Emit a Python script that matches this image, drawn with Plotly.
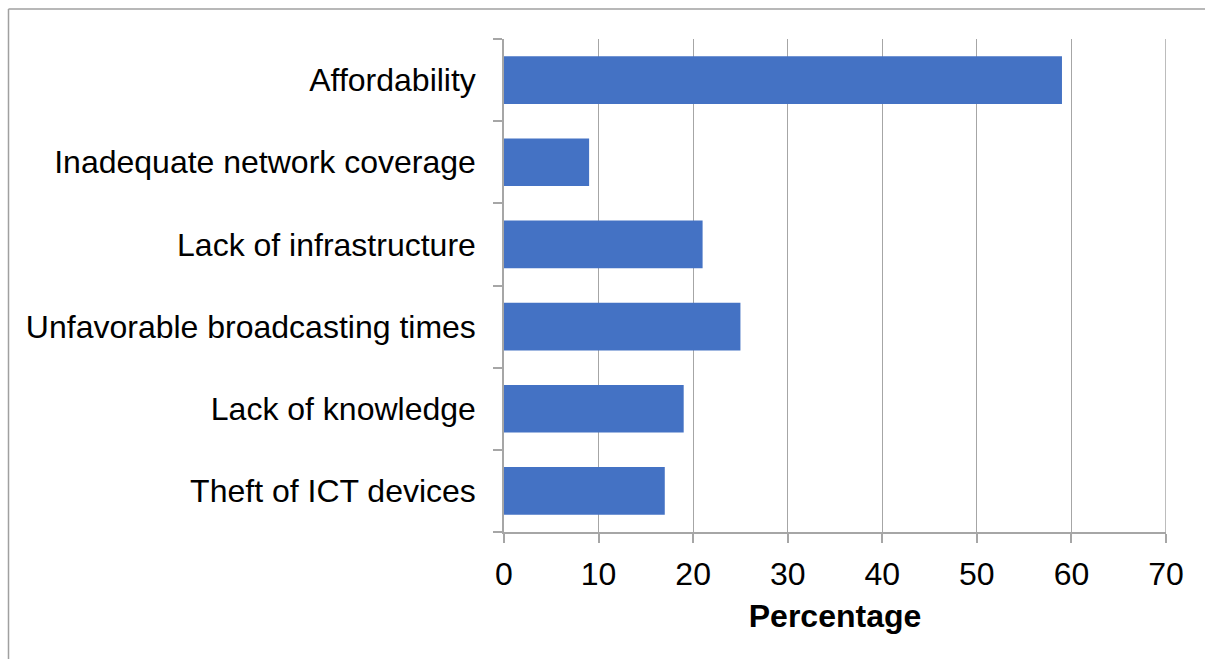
import plotly.graph_objects as go

# Barriers reported, top to bottom
categories = [
    "Affordability",
    "Inadequate network coverage",
    "Lack of infrastructure",
    "Unfavorable broadcasting times",
    "Lack of knowledge",
    "Theft of ICT devices",
]
percentages = [59, 9, 21, 25, 19, 17]
x_ticks = [0, 10, 20, 30, 40, 50, 60, 70]

W, H = 1205, 659
L, R, T, B = 504, 39, 39, 127
pw, ph = W - L - R, H - T - B

fig = go.Figure(
    go.Bar(
        x=percentages,
        y=categories,
        orientation="h",
        marker=dict(color="#4472C4", line=dict(width=0)),
        width=0.58,
        hoverinfo="x+y",
    )
)

grid = "#a6a6a6"
font = "Liberation Sans, Arial, sans-serif"

fig.update_layout(
    width=W,
    height=H,
    margin=dict(l=L, r=R, t=T, b=B, pad=0),
    paper_bgcolor="white",
    plot_bgcolor="white",
    showlegend=False,
    font=dict(family=font, color="black"),
    xaxis=dict(
        range=[0, 70],
        tickvals=x_ticks,
        ticktext=[str(v) for v in x_ticks],
        showgrid=True,
        gridcolor=grid,
        gridwidth=1,
        zeroline=False,
        showline=True,
        linecolor=grid,
        linewidth=1.5,
        ticks="outside",
        ticklen=9,
        tickcolor=grid,
        tickwidth=1.5,
        ticklabelstandoff=4,
        tickfont=dict(size=32, family=font, color="black"),
        title=dict(
            text="<b>Percentage</b>",
            font=dict(size=32, family=font, color="black"),
            standoff=13,
        ),
        fixedrange=True,
    ),
    yaxis=dict(
        categoryorder="array",
        categoryarray=categories[::-1],
        autorange=True,
        showgrid=False,
        zeroline=False,
        showline=True,
        linecolor=grid,
        linewidth=1.5,
        ticks="outside",
        tickson="boundaries",
        ticklen=9,
        tickcolor=grid,
        tickwidth=1.5,
        ticklabelstandoff=20,
        tickfont=dict(size=32, family=font, color="black"),
        fixedrange=True,
    ),
)

# Right-hand gridline at 70 closes the plot area
fig.add_shape(type="line", xref="x", yref="paper", x0=70, x1=70, y0=0, y1=1,
              line=dict(color=grid, width=1.5))

# Chart-area frame (top and left edges)
x_left = (8.5 - L) / pw
x_right = (W - L) / pw
y_top = 1 + (T - 9) / ph
y_bot = -(B) / ph
fig.add_shape(type="line", xref="paper", yref="paper", x0=x_left, x1=x_right,
              y0=y_top, y1=y_top, line=dict(color="#a0a0a0", width=1.5))
fig.add_shape(type="line", xref="paper", yref="paper", x0=x_left, x1=x_left,
              y0=y_top, y1=y_bot, line=dict(color="#a0a0a0", width=1.5))

fig.write_html("out.html")
